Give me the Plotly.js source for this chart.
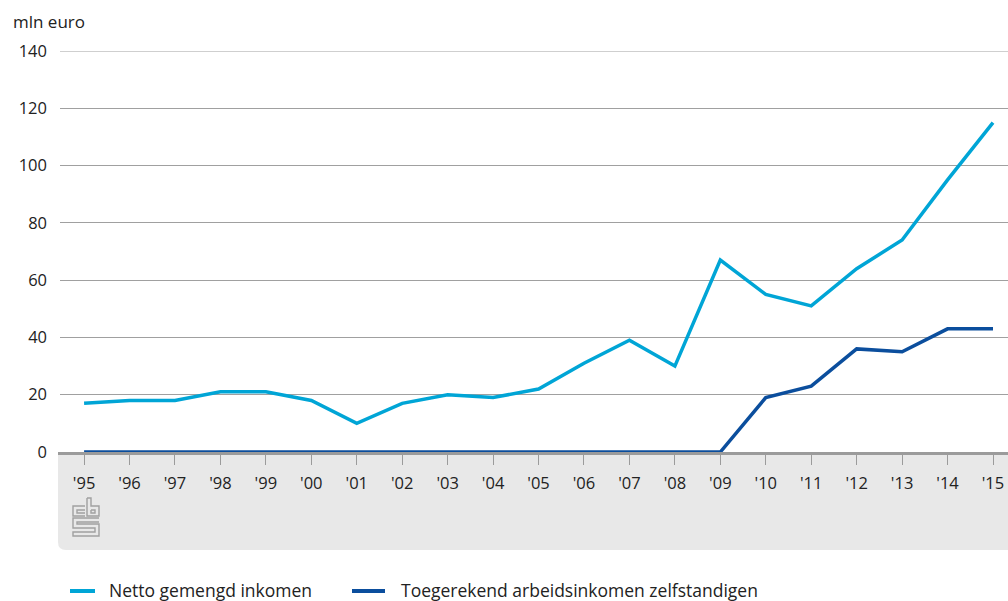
<!DOCTYPE html>
<html>
<head>
<meta charset="utf-8">
<script src="https://cdn.plot.ly/plotly-3.0.1.min.js"></script>
<style>html,body{margin:0;padding:0;background:#fff;}#chart{width:1008px;height:601px;}</style>
</head>
<body>
<div id="chart"></div>
<script>
const years = ["'95","'96","'97","'98","'99","'00","'01","'02","'03","'04","'05","'06","'07","'08","'09","'10","'11","'12","'13","'14","'15"];
const nettoGemengd = [17,18,18,21,21,18,10,17,20,19,22,31,39,30,67,55,51,64,74,95,115];
const toegerekend = [0,0,0,0,0,0,0,0,0,0,0,0,0,0,0,19,23,36,35,43,43];
const seriesNames = ["Netto gemengd inkomen","Toegerekend arbeidsinkomen zelfstandigen"];
const colors = ['#00a5d6','#0b4e9d'];

const W=1008,H=601,L=60,R=0,T=51,B=149;
const pw=W-L-R, ph=H-T-B;
const px=x=>(x-L)/pw;
const py=y=>(H-B-y)/ph;

// grey band with rounded bottom-left corner
const bx0=px(58), bx1=px(1008), by0=py(455), by1=py(550);
const rx=8/pw, ry=8/ph;
const bandPath=`M ${bx0} ${by0} L ${bx1} ${by0} L ${bx1} ${by1} L ${bx0+rx} ${by1} Q ${bx0} ${by1} ${bx0} ${by1+ry} Z`;

// cbs logo approximation
function P(pts){return pts.map((p,i)=>(i?'L ':'M ')+px(p[0])+' '+py(p[1])).join(' ');}
const logo=[
  P([[85,506],[73,506],[73,516],[85,516]]),
  P([[85,510],[77,510],[77,513],[85,513]]),
  P([[87,498],[87,516],[99,516],[99,506],[91,506],[91,498],[87,498]]),
  P([[91,510],[95,510],[95,513],[91,513],[91,510]]),
  P([[99,518],[73,518],[73,528],[95,528],[95,532],[73,532],[73,536],[99,536],[99,524],[77,524],[77,522],[99,522]])
];

const shapes=[
  {type:'path',xref:'paper',yref:'paper',path:bandPath,fillcolor:'#e8e8e8',line:{width:0},layer:'below'},
  {type:'line',xref:'paper',yref:'y',x0:0,x1:1,y0:140,y1:140,line:{color:'#a0a0a0',width:1},layer:'below'},
  {type:'line',xref:'paper',yref:'paper',x0:px(58),x1:1,y0:py(453.5),y1:py(453.5),line:{color:'#9b9b9b',width:3},layer:'below'}
].concat(logo.map(p=>({type:'path',xref:'paper',yref:'paper',path:p,line:{color:'#a0a0a0',width:1.4}})));

// manual legend (line samples)
const legendItems=[{x0:70,x1:95,tx:107},{x0:352,x1:385,tx:399}];
legendItems.forEach((it,i)=>{
  shapes.push({type:'line',xref:'paper',yref:'paper',x0:px(it.x0),x1:px(it.x1),y0:py(591),y1:py(591),line:{color:colors[i],width:4}});
});

const traces=[
  {x:years,y:nettoGemengd,name:seriesNames[0],type:'scatter',mode:'lines',line:{color:colors[0],width:3.5},cliponaxis:false},
  {x:years,y:toegerekend,name:seriesNames[1],type:'scatter',mode:'lines',line:{color:colors[1],width:3.5},cliponaxis:false}
];

const annotations=[{text:'mln euro',xref:'paper',yref:'paper',x:px(11),y:py(22),xanchor:'left',yanchor:'middle',showarrow:false,font:{size:17,color:'#222'}}];
legendItems.forEach((it,i)=>{
  annotations.push({text:seriesNames[i],xref:'paper',yref:'paper',x:px(it.tx),y:py(590),xanchor:'left',yanchor:'middle',showarrow:false,font:{size:17.5,color:'#222'}});
});

const font={family:'"Open Sans", "Noto Sans", sans-serif',color:'#222',size:16};
const layout={
  width:W,height:H,margin:{l:L,r:R,t:T,b:B},
  paper_bgcolor:'#fff',plot_bgcolor:'#fff',
  font:font,showlegend:false,
  xaxis:{type:'category',range:[-0.53,20.33],showgrid:false,zeroline:false,showline:false,
    ticks:'outside',ticklen:12,tickcolor:'#9b9b9b',tickwidth:1,ticklabelstandoff:4,
    tickfont:{size:16.5,color:'#222'},fixedrange:true,automargin:false},
  yaxis:{range:[0,140],dtick:20,showgrid:true,gridcolor:'#a0a0a0',gridwidth:1,zeroline:false,showline:false,
    ticks:'',ticklabelstandoff:12,tickfont:{size:16.5,color:'#222'},fixedrange:true,automargin:false},
  shapes:shapes,
  annotations:annotations
};
Plotly.newPlot('chart',traces,layout,{displayModeBar:false,staticPlot:true});
</script>
</body>
</html>
